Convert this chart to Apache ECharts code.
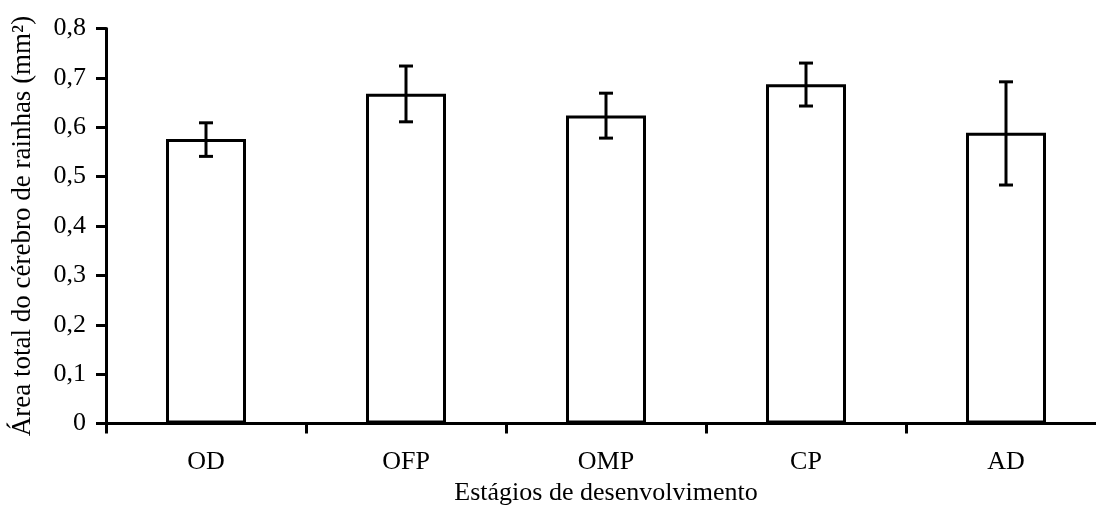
<!DOCTYPE html>
<html>
<head>
<meta charset="utf-8">
<script src="https://cdn.jsdelivr.net/npm/echarts@6/dist/echarts.min.js"></script>
<style>
  html, body { margin: 0; padding: 0; background: #fff; }
  #chart { width: 1096px; height: 508px; }
</style>
</head>
<body>
<div id="chart"></div>
<script>
// dados
const stages = ["OD", "OFP", "OMP", "CP", "AD"];
const meanArea = [0.576, 0.668, 0.624, 0.687, 0.589];
const errLow = [0.541, 0.611, 0.578, 0.643, 0.483];
const errHigh = [0.609, 0.724, 0.669, 0.730, 0.692];
const yTicks = [0, 0.1, 0.2, 0.3, 0.4, 0.5, 0.6, 0.7, 0.8];

const font = "Liberation Serif";
const chart = echarts.init(document.getElementById("chart"));

const errData = stages.map((s, i) => [i, errLow[i], errHigh[i]]);

chart.setOption({
  animation: false,
  grid: { left: 106, top: 28.5, bottom: 84.5, right: -10, outerBoundsMode: "none", containLabel: false },
  xAxis: {
    type: "category",
    data: stages,
    name: "Estágios de desenvolvimento",
    nameLocation: "middle",
    nameGap: 56,
    nameTextStyle: { fontFamily: font, fontSize: 26, color: "#000" },
    axisLine: { lineStyle: { color: "#000", width: 3 } },
    axisTick: { show: true, length: 10, lineStyle: { color: "#000", width: 3 } },
    axisLabel: { fontFamily: font, fontSize: 26, color: "#000", margin: 26 }
  },
  yAxis: {
    type: "value",
    min: 0,
    max: 0.8,
    interval: 0.1,
    name: "Área total do cérebro de rainhas (mm²)",
    nameLocation: "middle",
    nameGap: 70,
    nameTextStyle: { fontFamily: font, fontSize: 27, color: "#000" },
    splitLine: { show: false },
    axisLine: { show: true, lineStyle: { color: "#000", width: 3 } },
    axisTick: { show: true, length: 10, lineStyle: { color: "#000", width: 3 } },
    axisLabel: {
      fontFamily: font, fontSize: 26, color: "#000", margin: 20,
      formatter: v => {
        const t = yTicks.find(x => Math.abs(x - v) < 1e-9);
        return t === 0 ? "0" : (t !== undefined ? t : v).toFixed(1).replace(".", ",");
      }
    }
  },
  series: [
    {
      type: "bar",
      data: meanArea,
      barWidth: "40%",
      itemStyle: { color: "#fff", borderColor: "#000", borderWidth: 3 }
    },
    {
      type: "custom",
      data: errData,
      z: 10,
      renderItem: (params, api) => {
        const x = api.value(0);
        const lo = api.coord([x, api.value(1)]);
        const hi = api.coord([x, api.value(2)]);
        const cap = 7;
        const style = { stroke: "#000", lineWidth: 3 };
        return {
          type: "group",
          children: [
            { type: "line", shape: { x1: lo[0], y1: lo[1], x2: hi[0], y2: hi[1] }, style },
            { type: "line", shape: { x1: hi[0] - cap, y1: hi[1], x2: hi[0] + cap, y2: hi[1] }, style },
            { type: "line", shape: { x1: lo[0] - cap, y1: lo[1], x2: lo[0] + cap, y2: lo[1] }, style }
          ]
        };
      }
    }
  ]
});
</script>
</body>
</html>
